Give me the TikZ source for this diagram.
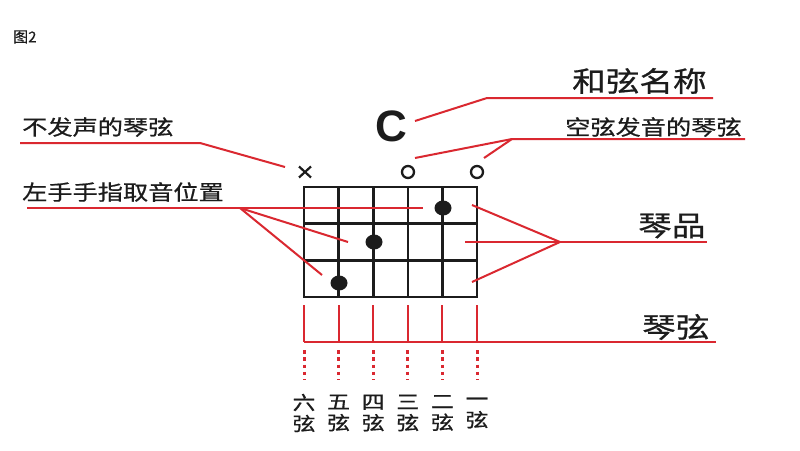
\documentclass[tikz,border=0pt]{standalone}
\usepackage{fontspec}
\usetikzlibrary{shapes.geometric}
\setmainfont{Liberation Sans}
\newfontfamily\cjk[FakeStretch=1.2,FakeBold=0.7]{Noto Sans CJK SC}
\newfontfamily\cjkn[FakeBold=0.5]{Noto Sans CJK SC}
\definecolor{lred}{RGB}{218,40,48}
\definecolor{ink}{RGB}{28,28,28}
\begin{document}
\begin{tikzpicture}[x=1pt,y=-1pt,
  redline/.style={draw=lred,line width=2pt},
  reddot/.style={draw=lred,line width=3pt,dash pattern=on 3.5pt off 3.8pt},
  gridline/.style={draw=ink,line width=2.6pt,line cap=rect},
  lab/.style={font=\cjk\fontsize{21pt}{21pt}\selectfont,text=ink,inner sep=0pt,anchor=west},
  biglab/.style={font=\cjk\fontsize{28pt}{28pt}\selectfont,text=ink,inner sep=0pt,anchor=west},
  strlab/.style={font=\cjk\fontsize{19pt}{19pt}\selectfont,text=ink,inner sep=0pt,align=center},
  fdot/.style={fill=ink,ellipse,inner sep=0pt,minimum width=17pt,minimum height=15pt},
  openmark/.style={draw=ink,line width=2.3pt,circle,inner sep=0pt,minimum size=12pt}]
\useasboundingbox (0,0) rectangle (800,450);
\fill[white] (0,0) rectangle (800,450);

% title
\node[anchor=west,inner sep=0pt,text=ink,font=\cjkn\fontsize{15pt}{15pt}\selectfont] (fig) at (13,37) {图2};

% grid
\foreach \i in {0,...,5} {
  \draw[gridline] ({304+34.6*\i},187) -- ({304+34.6*\i},297);
}
\foreach \j in {0,...,3} {
  \draw[gridline] (304,{187+36.67*\j}) -- (477,{187+36.67*\j});
}

% finger dots
\node[fdot] (d2) at (443,208) {};
\node[fdot] (d4) at (374,242) {};
\node[fdot] (d5) at (339,283) {};

% mute and open marks
\node[inner sep=0pt] (mute) at (305,172) {};
\draw[ink,line width=2.2pt] (299,166.5) -- (311,177.5) (299,177.5) -- (311,166.5);
\node[openmark] (o3) at (408,172) {};
\node[openmark] (o1) at (477,172) {};

% chord name
\node[inner sep=0pt,text=ink,font=\bfseries\fontsize{44pt}{44pt}\selectfont] (chord) at (391,126) {C};

% labels
\node[lab] (mutelab) at (22,127) {不发声的琴弦};
\node[lab] (fingerlab) at (22,192) {左手手指取音位置};
\node[biglab] (namelab) at (572,81) {和弦名称};
\node[lab] (openlab) at (565,127) {空弦发音的琴弦};
\node[biglab] (fretlab) at (638,226) {琴品};
\node[biglab] (stringlab) at (642,327) {琴弦};

% chord name connector
\coordinate (cn1) at (415,121);
\coordinate (cn2) at (487,98);
\coordinate (cn3) at (713,98);
\draw[redline] (cn1) -- (cn2) -- (cn3);

% open strings connector
\coordinate (os1) at (415,158);
\coordinate (os2) at (484,158);
\coordinate (osb) at (512,139);
\coordinate (os3) at (745,139);
\draw[redline] (os1) -- (osb) -- (os3);
\draw[redline] (os2) -- (osb);

% mute connector
\coordinate (m1) at (20,143);
\coordinate (m2) at (200,143);
\coordinate (m3) at (285,167);
\draw[redline] (m1) -- (m2) -- (m3);

% finger connector
\coordinate (f1) at (27,208);
\coordinate (fb) at (240,208);
\coordinate (f2) at (423,208);
\coordinate (f4) at (348,242);
\coordinate (f5) at (322,275);
\draw[redline] (f1) -- (f2);
\draw[redline] (fb) -- (f4);
\draw[redline] (fb) -- (f5);

% fret connector
\coordinate (q1) at (472,205);
\coordinate (q2) at (465,242);
\coordinate (q3) at (472,282);
\coordinate (qb) at (560,242);
\coordinate (qe) at (707,242);
\draw[redline] (q2) -- (qe);
\draw[redline] (q1) -- (qb) -- (q3);

% string connector
\coordinate (s0) at (304,342);
\coordinate (se) at (716,342);
\draw[redline] (s0) -- (se);
\foreach \i/\n/\c in {0/六/6,1/五/5,2/四/4,3/三/3,4/二/2,5/一/1} {
  \draw[redline] ({304+34.6*\i},305) -- ({304+34.6*\i},342);
  \draw[reddot] ({304+34.6*\i},350) -- ({304+34.6*\i},380);
  \node[strlab] (sl\c) at ({304+34.6*\i},413) {\n\\[2pt]弦};
}
\end{tikzpicture}
\end{document}
